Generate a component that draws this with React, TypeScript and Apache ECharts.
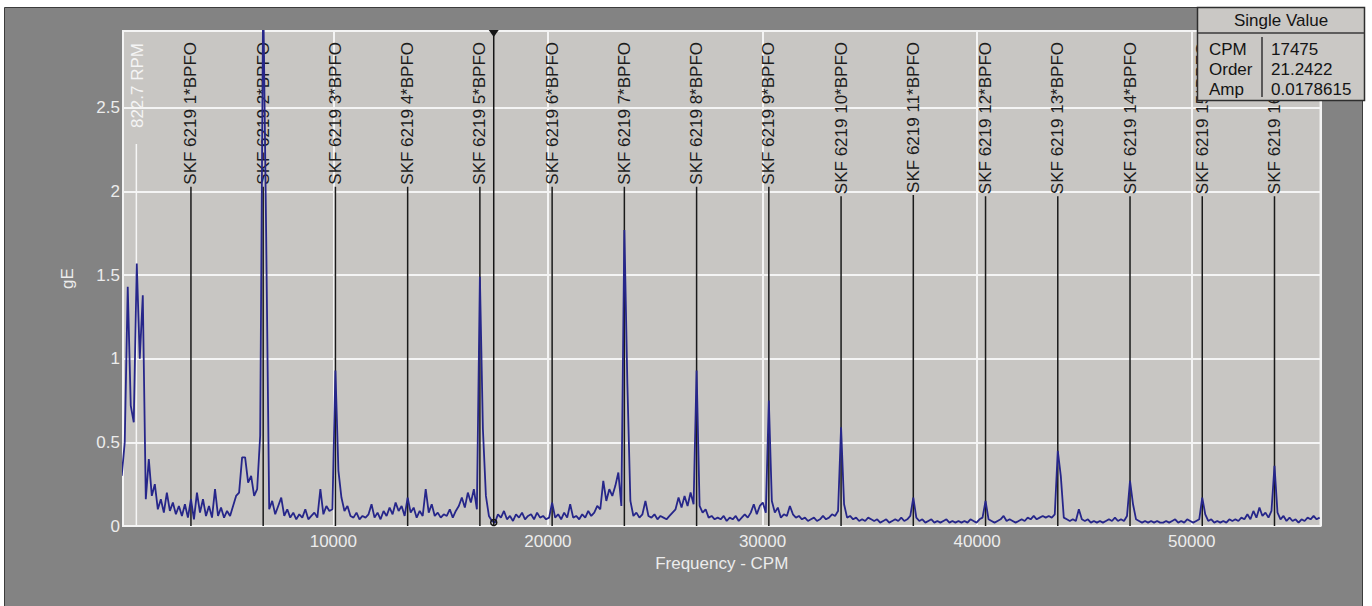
import React, { useEffect, useRef } from "react";
import * as echarts from "echarts";

// ---- data ----
const BIN_CPM = 140.25; // spectral line spacing (CPM)
const spectrumGE = [
  0.30, 0.50, 1.43, 0.72, 0.62, 1.57, 1.00, 1.38, 0.16, 0.40,
  0.18, 0.25, 0.10, 0.16, 0.08, 0.20, 0.09, 0.14, 0.07, 0.12,
  0.06, 0.13, 0.05, 0.16, 0.04, 0.20, 0.08, 0.16, 0.06, 0.12,
  0.05, 0.22, 0.06, 0.11, 0.05, 0.09, 0.06, 0.12, 0.18, 0.20,
  0.41, 0.41, 0.26, 0.30, 0.18, 0.22, 0.54, 3.20, 1.73, 0.10,
  0.15, 0.07, 0.12, 0.17, 0.06, 0.10, 0.05, 0.08, 0.04, 0.07,
  0.05, 0.10, 0.04, 0.06, 0.08, 0.05, 0.22, 0.07, 0.12, 0.09,
  0.10, 0.93, 0.33, 0.17, 0.09, 0.12, 0.06, 0.05, 0.08, 0.04,
  0.06, 0.05, 0.07, 0.13, 0.05, 0.08, 0.04, 0.09, 0.06, 0.11,
  0.07, 0.14, 0.09, 0.12, 0.06, 0.17, 0.08, 0.11, 0.05, 0.09,
  0.06, 0.22, 0.08, 0.13, 0.06, 0.08, 0.05, 0.07, 0.06, 0.10,
  0.05, 0.09, 0.12, 0.17, 0.11, 0.20, 0.14, 0.22, 0.10, 1.49,
  0.58, 0.18, 0.06, 0.03, 0.02, 0.07, 0.05, 0.09, 0.04, 0.06,
  0.03, 0.07, 0.05, 0.08, 0.04, 0.06, 0.07, 0.04, 0.08, 0.05,
  0.06, 0.04, 0.05, 0.14, 0.05, 0.07, 0.04, 0.08, 0.05, 0.13,
  0.05, 0.06, 0.04, 0.07, 0.05, 0.09, 0.06, 0.08, 0.12, 0.10,
  0.27, 0.15, 0.22, 0.18, 0.24, 0.32, 0.12, 1.77, 0.85, 0.15,
  0.06, 0.08, 0.05, 0.07, 0.15, 0.06, 0.05, 0.07, 0.04, 0.06,
  0.05, 0.04, 0.06, 0.08, 0.10, 0.17, 0.11, 0.18, 0.12, 0.20,
  0.13, 0.93, 0.12, 0.08, 0.10, 0.05, 0.06, 0.04, 0.05, 0.04,
  0.06, 0.03, 0.05, 0.04, 0.06, 0.03, 0.05, 0.07, 0.05, 0.08,
  0.13, 0.07, 0.12, 0.14, 0.08, 0.75, 0.15, 0.08, 0.11, 0.05,
  0.07, 0.06, 0.12, 0.07, 0.05, 0.06, 0.04, 0.05, 0.03, 0.04,
  0.05, 0.03, 0.04, 0.06, 0.04, 0.05, 0.07, 0.06, 0.09, 0.59,
  0.13, 0.05, 0.06, 0.04, 0.05, 0.03, 0.04, 0.03, 0.05, 0.04,
  0.03, 0.04, 0.02, 0.03, 0.04, 0.02, 0.03, 0.04, 0.03, 0.05,
  0.03, 0.04, 0.06, 0.17, 0.05, 0.03, 0.04, 0.02, 0.03, 0.04,
  0.02, 0.03, 0.02, 0.03, 0.04, 0.02, 0.03, 0.02, 0.03, 0.02,
  0.03, 0.02, 0.04, 0.03, 0.02, 0.04, 0.05, 0.15, 0.04, 0.03,
  0.02, 0.03, 0.04, 0.06, 0.03, 0.04, 0.03, 0.02, 0.03, 0.04,
  0.03, 0.05, 0.04, 0.06, 0.04, 0.05, 0.06, 0.05, 0.06, 0.05,
  0.07, 0.45, 0.30, 0.05, 0.04, 0.03, 0.04, 0.03, 0.10, 0.04,
  0.03, 0.04, 0.02, 0.03, 0.02, 0.03, 0.02, 0.03, 0.04, 0.03,
  0.05, 0.03, 0.04, 0.03, 0.06, 0.27, 0.13, 0.04, 0.03, 0.02,
  0.03, 0.02, 0.03, 0.02, 0.03, 0.02, 0.02, 0.03, 0.02, 0.03,
  0.04, 0.02, 0.03, 0.02, 0.04, 0.03, 0.02, 0.03, 0.04, 0.17,
  0.07, 0.03, 0.04, 0.02, 0.03, 0.02, 0.03, 0.02, 0.04, 0.03,
  0.04, 0.03, 0.05, 0.04, 0.07, 0.04, 0.09, 0.05, 0.11, 0.06,
  0.08, 0.05, 0.09, 0.36, 0.08, 0.04, 0.06, 0.03, 0.05, 0.03,
  0.04, 0.02, 0.04, 0.03, 0.05, 0.04, 0.06, 0.04, 0.05,
];

const harmonicOrders = [1, 2, 3, 4, 5, 6, 7, 8, 9, 10, 11, 12, 13, 14, 15, 16];
const BPFO_CPM = 3366;
const bearingName = "SKF 6219";
const runningSpeedRpm = 822.7;
const cursorCpm = 17475;
const infoTitle = "Single Value";
const infoLabels = ["CPM", "Order", "Amp"];
const infoValues = ["17475", "21.2422", "0.0178615"];
const xAxisMin = 200;
const xAxisMax = 56000;
const yAxisMax = 2.96;

const FONT = '"Liberation Sans", Arial, sans-serif';
const FS = 17;

let measureCtx: CanvasRenderingContext2D | null = null;
function textWidth(t: string, size: number) {
  if (!measureCtx) measureCtx = document.createElement("canvas").getContext("2d");
  if (!measureCtx) return t.length * size * 0.55;
  measureCtx.font = `${size}px ${FONT}`;
  return measureCtx.measureText(t).width;
}

export default function App() {
  const ref = useRef<HTMLDivElement>(null);
  useEffect(() => {
    if (!ref.current) return;
    const chart = echarts.init(ref.current, undefined, { renderer: "svg" });
    const labelColor = "#ececec";

    const infoBox: any[] = [
      {
        type: "rect", z: 100, silent: true,
        shape: { x: 1197.5, y: 7.5, width: 167, height: 93 },
        style: { fill: "#cac8c5", stroke: "#2e2e2e", lineWidth: 1.5 },
      },
      {
        type: "line", z: 101, silent: true,
        shape: { x1: 1197.5, y1: 33, x2: 1364.5, y2: 33 },
        style: { stroke: "#3a3a3a", lineWidth: 1.5 },
      },
      {
        type: "line", z: 101, silent: true,
        shape: { x1: 1262, y1: 37, x2: 1262, y2: 97 },
        style: { stroke: "#333333", lineWidth: 1.5 },
      },
      {
        type: "text", z: 101, silent: true, x: 1281, y: 20.5,
        style: { text: infoTitle, fill: "#141414", font: `${FS}px ${FONT}`, align: "center", verticalAlign: "middle", textAlign: "center", textVerticalAlign: "middle" },
      },
    ];
    infoLabels.forEach((l, i) => {
      infoBox.push({
        type: "text", z: 101, silent: true, x: 1209, y: 49 + i * 20,
        style: { text: l, fill: "#141414", font: `${FS}px ${FONT}`, align: "left", verticalAlign: "middle", textAlign: "left", textVerticalAlign: "middle" },
      });
      infoBox.push({
        type: "text", z: 101, silent: true, x: 1271, y: 49 + i * 20,
        style: { text: infoValues[i], fill: "#141414", font: `${FS}px ${FONT}`, align: "left", verticalAlign: "middle", textAlign: "left", textVerticalAlign: "middle" },
      });
    });

    const option: any = {
      animation: false,
      backgroundColor: "#ffffff",
      textStyle: { fontFamily: FONT },
      grid: {
        left: 123, right: 51.5, top: 31, bottom: 80,
        show: true, backgroundColor: "#c8c6c3", borderColor: "#f2f2f2", borderWidth: 2,
      },
      xAxis: {
        type: "value", min: xAxisMin, max: xAxisMax, splitNumber: 5,
        name: "Frequency - CPM", nameLocation: "middle", nameGap: 28,
        nameTextStyle: { color: labelColor, fontSize: FS, fontFamily: FONT },
        axisLine: { show: false }, axisTick: { show: false },
        axisLabel: {
          color: labelColor, fontSize: FS, fontFamily: FONT, margin: 7,
          showMinLabel: false, showMaxLabel: false,
          formatter: (v: number) => String(v),
        },
        splitLine: { show: true, lineStyle: { color: "#f4f4f4", width: 2 } },
      },
      yAxis: {
        type: "value", min: 0, max: yAxisMax, interval: 0.5,
        name: "gE", nameLocation: "middle", nameGap: 47, nameRotate: 90,
        nameTextStyle: { color: labelColor, fontSize: FS, fontFamily: FONT },
        axisLine: { show: false }, axisTick: { show: false },
        axisLabel: { color: labelColor, fontSize: FS, fontFamily: FONT, margin: 3, showMaxLabel: false },
        splitLine: { show: true, lineStyle: { color: "#f4f4f4", width: 2 } },
      },
      graphic: [
        {
          type: "rect", z: -10, silent: true,
          shape: { x: 4.5, y: 7.5, width: 1358, height: 600 },
          style: { fill: "#838383", stroke: "#3c3c3c", lineWidth: 1 },
        },
        ...infoBox,
      ],
      series: [
        {
          type: "custom", name: "running speed", coordinateSystem: "cartesian2d", z: 2,
          encode: { x: 0, y: 1 }, silent: true,
          data: [[runningSpeedRpm, 0]],
          renderItem: (params: any, api: any) => {
            const cs = params.coordSys;
            const base = api.coord([api.value(0), 0]);
            const text = `${runningSpeedRpm} RPM`;
            const top = cs.y + 12;
            const w = textWidth(text, FS);
            return {
              type: "group",
              children: [
                { type: "line", shape: { x1: base[0], y1: top + w + 16, x2: base[0], y2: base[1] }, style: { stroke: "#f6f6f6", lineWidth: 1.5 } },
                {
                  type: "text", x: base[0] + 1.5, y: top, rotation: Math.PI / 2,
                  style: { text, fill: "#f4f4f4", font: `${FS}px ${FONT}`, align: "right", verticalAlign: "middle", textAlign: "right", textVerticalAlign: "middle" },
                },
              ],
            };
          },
        },
        {
          type: "custom", name: "BPFO harmonics", coordinateSystem: "cartesian2d", z: 2,
          encode: { x: 0, y: 1 }, silent: true,
          data: harmonicOrders.map((n) => [n * BPFO_CPM, 0]),
          renderItem: (params: any, api: any) => {
            const cs = params.coordSys;
            const n = harmonicOrders[params.dataIndex];
            const base = api.coord([api.value(0), 0]);
            const text = `${bearingName} ${n}*BPFO`;
            const top = cs.y + 11;
            const w = textWidth(text, FS);
            return {
              type: "group",
              children: [
                { type: "line", shape: { x1: base[0], y1: top + w + 2, x2: base[0], y2: base[1] }, style: { stroke: "#1a1a1a", lineWidth: 1.5 } },
                {
                  type: "text", x: base[0], y: top, rotation: Math.PI / 2,
                  style: { text, fill: "#1c1c1c", font: `${FS}px ${FONT}`, align: "right", verticalAlign: "middle", textAlign: "right", textVerticalAlign: "middle" },
                },
              ],
            };
          },
        },
        {
          type: "line", name: "spectrum", z: 3, silent: true,
          showSymbol: false, symbol: "none", clip: true,
          data: spectrumGE.map((v, i) => [(i + 1) * BIN_CPM, v]),
          lineStyle: { color: "#26268a", width: 1.8 },
        },
        {
          type: "custom", name: "cursor", coordinateSystem: "cartesian2d", z: 5,
          encode: { x: 0, y: 1 }, silent: true,
          data: [[cursorCpm, 0]],
          renderItem: (params: any, api: any) => {
            const cs = params.coordSys;
            const p = api.coord([api.value(0), 0]);
            const x = p[0];
            return {
              type: "group",
              children: [
                { type: "line", shape: { x1: x, y1: cs.y, x2: x, y2: cs.y + cs.height }, style: { stroke: "#151515", lineWidth: 1.5 } },
                { type: "polygon", shape: { points: [[x - 5, cs.y - 1], [x + 5, cs.y - 1], [x, cs.y + 6]] }, style: { fill: "#151515" } },
                { type: "circle", shape: { cx: x, cy: cs.y + cs.height - 3.5, r: 3 }, style: { fill: "none", stroke: "#151515", lineWidth: 1.5 } },
              ],
            };
          },
        },
      ],
    };
    chart.setOption(option);
    return () => chart.dispose();
  }, []);
  return (
    <div
      ref={ref}
      style={{ position: "fixed", left: 0, top: 0, width: 1372, height: 606 }}
    />
  );
}
